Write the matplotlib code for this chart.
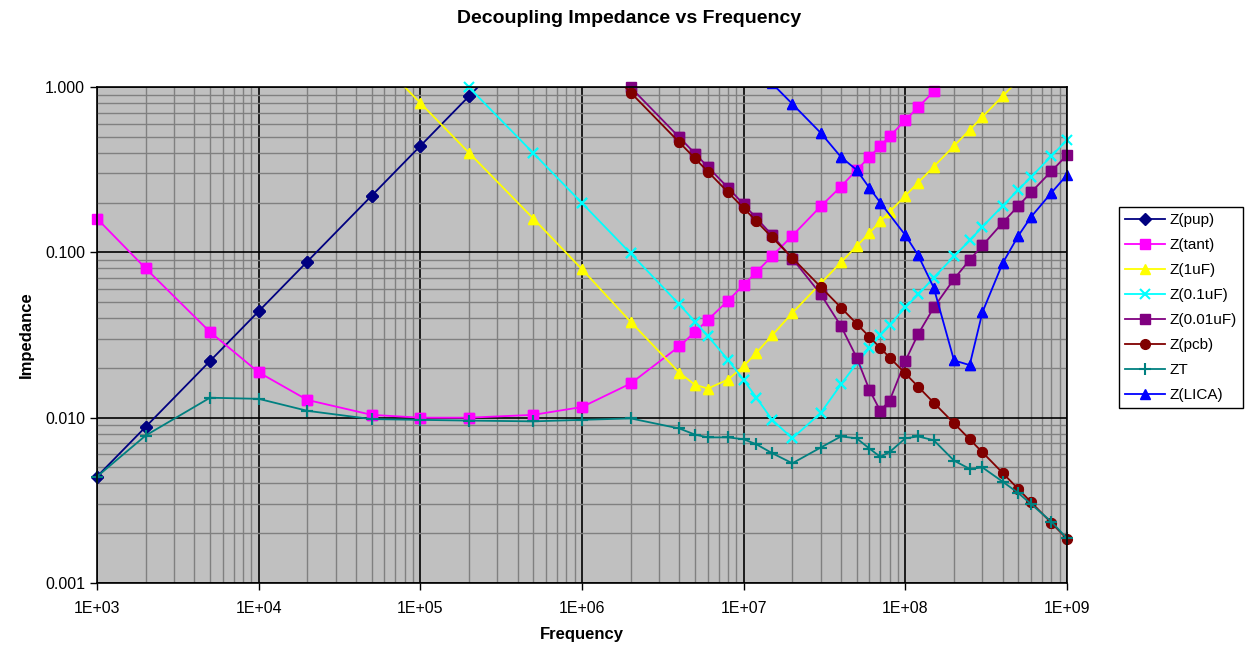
import numpy as np
import matplotlib
matplotlib.use("Agg")
import matplotlib.pyplot as plt
from matplotlib.ticker import LogLocator, FixedLocator, NullFormatter

plt.rcParams['font.family'] = ['Liberation Sans', 'DejaVu Sans']

nan = np.nan

# frequency points (Hz)
freq = [1e3, 2e3, 5e3, 1e4, 2e4, 5e4, 1e5, 2e5, 5e5, 1e6,
        2e6, 4e6, 5e6, 6e6, 8e6, 1e7, 1.2e7, 1.5e7, 2e7, 3e7,
        4e7, 5e7, 6e7, 7e7, 8e7, 1e8, 1.2e8, 1.5e8, 2e8, 2.5e8,
        3e8, 4e8, 5e8, 6e8, 8e8, 1e9]

z_pup = [0.0044, 0.0088, 0.022, 0.044, 0.088, 0.22, 0.44, 0.88, 2.2, nan,
         nan, nan, nan, nan, nan, nan, nan, nan, nan, nan,
         nan, nan, nan, nan, nan, nan, nan, nan, nan, nan,
         nan, nan, nan, nan, nan, nan]

z_tant = [0.16, 0.08, 0.033, 0.0188, 0.0128, 0.0104, 0.0100, 0.0100, 0.0104, 0.0116,
          0.0161, 0.027, 0.033, 0.039, 0.051, 0.0635, 0.076, 0.095, 0.126, 0.19,
          0.25, 0.315, 0.377, 0.44, 0.503, 0.63, 0.754, 0.94, 1.26, nan,
          nan, nan, nan, nan, nan, nan]

z_1uf = [nan, nan, nan, nan, nan, 1.6, 0.8, 0.4, 0.16, 0.079,
         0.038, 0.0187, 0.0158, 0.015, 0.017, 0.0205, 0.0247, 0.0315, 0.043, 0.065,
         0.087, 0.109, 0.131, 0.154, 0.176, 0.22, 0.264, 0.33, 0.44, 0.55,
         0.66, 0.88, 1.1, nan, nan, nan]

z_01uf = [nan, nan, nan, nan, nan, nan, 2.0, 0.995, 0.398, 0.1985,
          0.0985, 0.0484, 0.0381, 0.0312, 0.0224, 0.0169, 0.0132, 0.0097, 0.0075, 0.0107,
          0.0159, 0.0213, 0.0264, 0.0315, 0.0365, 0.0464, 0.0556, 0.0703, 0.0945, 0.118,
          0.143, 0.191, 0.239, 0.286, 0.382, 0.478]

z_001uf = [nan, nan, nan, nan, nan, nan, nan, nan, nan, 2.0,
           0.995, 0.496, 0.396, 0.329, 0.246, 0.195, 0.161, 0.127, 0.0917, 0.0557,
           0.0358, 0.0231, 0.0147, 0.011, 0.0127, 0.022, 0.032, 0.0464, 0.0689, 0.09,
           0.11, 0.151, 0.191, 0.231, 0.309, 0.388]

z_pcb = [nan, nan, nan, nan, nan, nan, nan, nan, nan, 1.85,
         0.925, 0.4625, 0.37, 0.308, 0.231, 0.185, 0.154, 0.123, 0.0925, 0.0617,
         0.0463, 0.037, 0.0308, 0.0264, 0.0231, 0.0185, 0.0154, 0.0123, 0.00925, 0.0074,
         0.00617, 0.00463, 0.0037, 0.00308, 0.00231, 0.00185]

z_t = [0.0044, 0.0078, 0.0132, 0.013, 0.011, 0.0098, 0.0097, 0.0096, 0.0095, 0.0097,
       0.0099, 0.0086, 0.0079, 0.0076, 0.0076, 0.0074, 0.0069, 0.0061, 0.0053, 0.0066,
       0.0077, 0.0075, 0.0065, 0.0058, 0.0062, 0.0075, 0.0077, 0.0073, 0.0055, 0.0049,
       0.0050, 0.0041, 0.0035, 0.0030, 0.00235, 0.00186]

z_lica = [nan, nan, nan, nan, nan, nan, nan, nan, nan, nan,
          nan, nan, nan, nan, nan, nan, nan, 1.05, 0.79, 0.527,
          0.377, 0.315, 0.245, 0.2, nan, 0.127, 0.096, 0.061, 0.0222, 0.0208,
          0.0435, 0.086, 0.126, 0.164, 0.229, 0.294]

series = [
    ("Z(pup)", z_pup, "#000080", "D", 6),
    ("Z(tant)", z_tant, "#ff00ff", "s", 7),
    ("Z(1uF)", z_1uf, "#ffff00", "^", 7),
    ("Z(0.1uF)", z_01uf, "#00ffff", "x", 7),
    ("Z(0.01uF)", z_001uf, "#800080", "s", 7),
    ("Z(pcb)", z_pcb, "#800000", "o", 7),
    ("ZT", z_t, "#008080", "+", 8),
    ("Z(LICA)", z_lica, "#0000ff", "^", 7),
]

fig = plt.figure(figsize=(12.58, 6.47), dpi=100)
ax = fig.add_axes([97 / 1258, 1 - 583 / 647, 970 / 1258, 496 / 647])
ax.set_facecolor("#c0c0c0")

f = np.array(freq)
for label, vals, color, marker, ms in series:
    y = np.array(vals, dtype=float)
    m = ~np.isnan(y)
    mew = 1.5 if marker in "x+" else 1
    ax.plot(f[m], y[m], color=color, marker=marker, markersize=ms,
            markeredgewidth=mew, linewidth=1.3, label=label)
    # markers on the frame edge are not cut off
    inside = m & (y <= 1.0001) & (y >= 0.001)
    ax.plot(f[inside], y[inside], linestyle="none", color=color, marker=marker,
            markersize=ms, markeredgewidth=mew, clip_on=False)

ax.set_xscale("log")
ax.set_yscale("log")
ax.set_xlim(1e3, 1e9)
ax.set_ylim(1e-3, 1)

ax.xaxis.set_major_locator(FixedLocator([1e3, 1e4, 1e5, 1e6, 1e7, 1e8, 1e9]))
ax.set_xticklabels(["1E+03", "1E+04", "1E+05", "1E+06", "1E+07", "1E+08", "1E+09"])
ax.yaxis.set_major_locator(FixedLocator([0.001, 0.01, 0.1, 1]))
ax.set_yticklabels(["0.001", "0.010", "0.100", "1.000"])
ax.xaxis.set_minor_locator(LogLocator(base=10, subs=np.arange(2, 10)))
ax.yaxis.set_minor_locator(LogLocator(base=10, subs=np.arange(2, 10)))
ax.xaxis.set_minor_formatter(NullFormatter())
ax.yaxis.set_minor_formatter(NullFormatter())

ax.grid(True, which="minor", color="#808080", linewidth=1.0)
ax.grid(True, which="major", color="black", linewidth=1.2)
ax.set_axisbelow(True)
ax.tick_params(which="minor", length=0)
ax.tick_params(which="major", length=5, width=1, labelsize=11.5, colors="black")
ax.tick_params(axis="x", pad=8)
for s in ax.spines.values():
    s.set_color("black")
    s.set_linewidth(1.2)

ax.set_xlabel("Frequency", fontsize=12, fontweight="bold", labelpad=8)
ax.set_ylabel("Impedance", fontsize=12, fontweight="bold", labelpad=8)
fig.suptitle("Decoupling Impedance vs Frequency", fontsize=14, fontweight="bold", y=0.985)

leg = ax.legend(loc="upper left", bbox_to_anchor=(1.054, 0.758), borderaxespad=0,
                fontsize=11, labelspacing=0.72, handlelength=2.6, handletextpad=0.3,
                fancybox=False, edgecolor="black", framealpha=1, borderpad=0.4)
leg.get_frame().set_linewidth(1.0)

fig.savefig("out.png", dpi=100)
